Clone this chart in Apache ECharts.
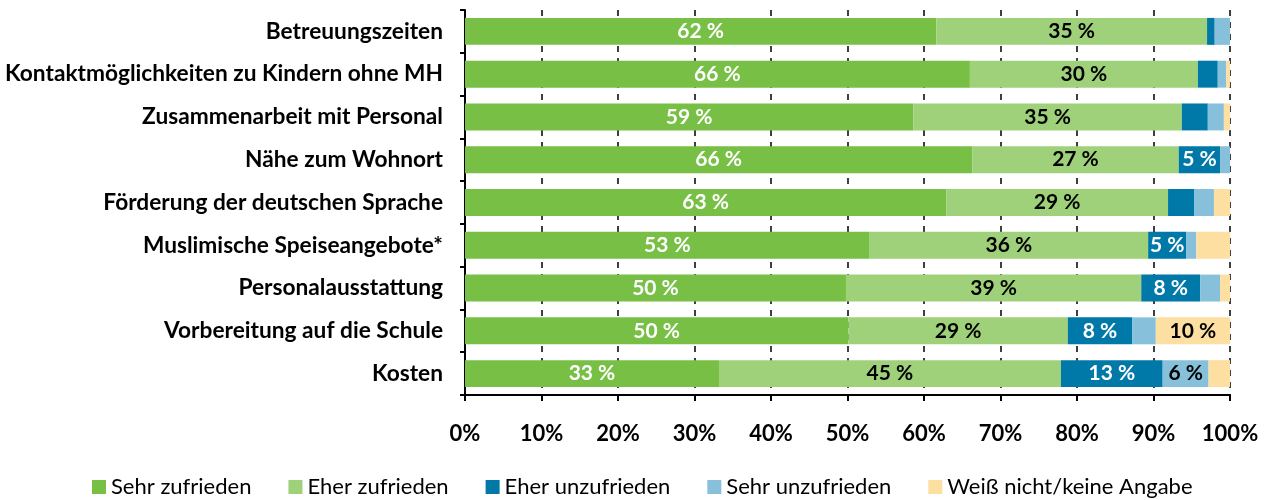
<!DOCTYPE html>
<html>
<head>
<meta charset="utf-8">
<script src="https://cdn.jsdelivr.net/npm/echarts@6/dist/echarts.min.js"></script>
<style>
  html, body { margin: 0; padding: 0; background: #fff; }
  #chart { width: 1264px; height: 500px; }
</style>
</head>
<body>
<div id="chart"></div>
<script>
// Kategorien (von oben nach unten)
var categories = [
  "Betreuungszeiten",
  "Kontaktmöglichkeiten zu Kindern ohne MH",
  "Zusammenarbeit mit Personal",
  "Nähe zum Wohnort",
  "Förderung der deutschen Sprache",
  "Muslimische Speiseangebote*",
  "Personalausstattung",
  "Vorbereitung auf die Schule",
  "Kosten"
];
var seriesNames = ["Sehr zufrieden", "Eher zufrieden", "Eher unzufrieden", "Sehr unzufrieden", "Weiß nicht/keine Angabe"];
// Werte in Prozent, je Kategorie in obiger Reihenfolge
var sehrZufrieden   = [61.6, 66.0, 58.6, 66.3, 62.9, 52.9, 49.8, 50.1, 33.2];
var eherZufrieden   = [35.4, 29.8, 35.1, 27.0, 29.0, 36.4, 38.6, 28.7, 44.7];
var eherUnzufrieden = [1.0, 2.6, 3.4, 5.4, 3.4, 5.0, 7.7, 8.4, 13.3];
var sehrUnzufrieden = [2.0, 1.1, 2.1, 1.3, 2.6, 1.3, 2.6, 3.1, 6.0];
var weissNicht      = [0.0, 0.5, 0.8, 0.0, 2.1, 4.4, 1.3, 9.7, 2.8];
var xTicks = ["0%", "10%", "20%", "30%", "40%", "50%", "60%", "70%", "80%", "90%", "100%"];

var colors = ["#77bf45", "#9fd17a", "#0079a8", "#87c0db", "#fddfa2"];
var labelColors = ["#fff", "#000", "#fff", "#000", "#000"];
var allData = [sehrZufrieden, eherZufrieden, eherUnzufrieden, sehrUnzufrieden, weissNicht];

var font = "Lato";

var series = allData.map(function (arr, i) {
  return {
    name: seriesNames[i],
    type: "bar",
    stack: "total",
    barWidth: "63%",
    itemStyle: { color: colors[i] },
    label: {
      show: true,
      position: "inside",
      color: labelColors[i],
      fontFamily: font,
      fontWeight: "bold",
      fontSize: 21,
      formatter: function (p) {
        var v = Math.round(p.value);
        return v >= 5 ? v + " %" : "";
      }
    },
    emphasis: { disabled: true },
    data: arr.slice().reverse()
  };
});

var chart = echarts.init(document.getElementById("chart"));
chart.setOption({
  animation: false,
  grid: { left: 465, right: 34, top: 10, bottom: 105 },
  legend: {
    top: 471,
    left: 87,
    itemWidth: 14,
    itemHeight: 14,
    itemGap: 37,
    icon: "rect",
    textStyle: { fontFamily: font, fontSize: 22, color: "#000" },
    data: seriesNames
  },
  xAxis: {
    type: "value",
    min: 0,
    max: 100,
    interval: 10,
    axisLine: { show: true, lineStyle: { color: "#000", width: 2 } },
    axisTick: { show: true, length: 6, lineStyle: { color: "#000", width: 2 } },
    axisLabel: {
      margin: 28,
      fontFamily: font,
      fontWeight: "bold",
      fontSize: 22,
      color: "#000",
      formatter: function (v) { return xTicks[Math.round(v / 10)]; }
    },
    splitLine: { show: true, lineStyle: { color: "#000", type: [6, 6], width: 1.5 } }
  },
  yAxis: {
    type: "category",
    data: categories.slice().reverse(),
    axisLine: { show: true, lineStyle: { color: "#000", width: 2 } },
    axisTick: { show: true, length: 5, lineStyle: { color: "#000", width: 2 } },
    axisLabel: {
      margin: 22,
      fontFamily: font,
      fontWeight: "bold",
      fontSize: 22.7,
      color: "#000"
    }
  },
  series: series
});
</script>
</body>
</html>
